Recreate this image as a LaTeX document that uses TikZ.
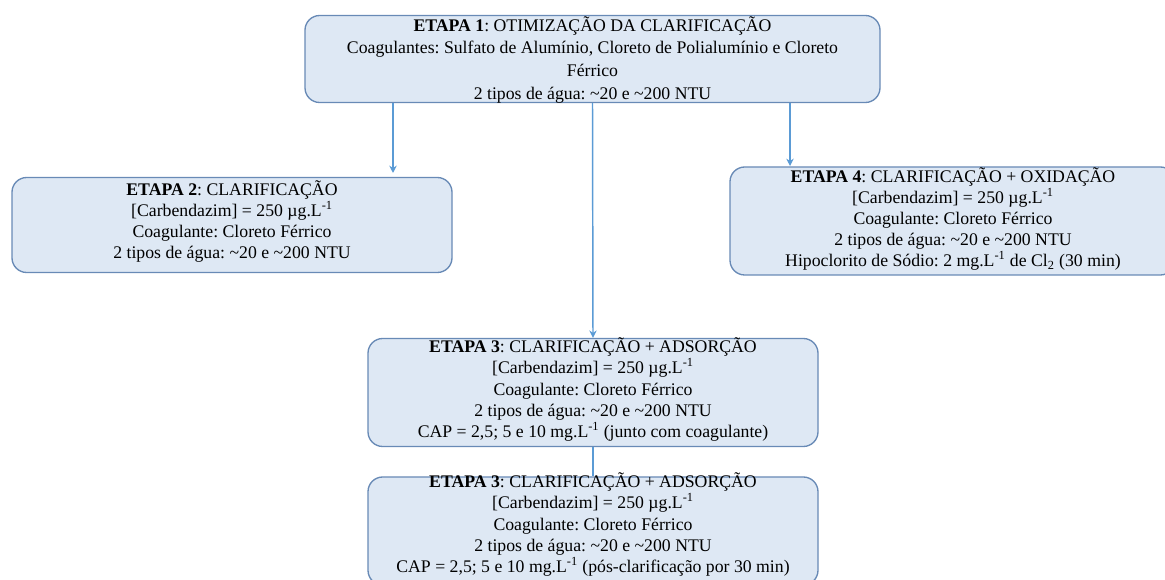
\documentclass[tikz,border=0pt]{standalone}
\usepackage{fontspec}
\setmainfont{Liberation Serif}
\usetikzlibrary{arrows.meta}
\definecolor{boxfill}{RGB}{222,232,244}
\definecolor{boxline}{RGB}{104,138,182}
\definecolor{arrline}{RGB}{91,155,213}
\tikzset{
  stagebox/.style={draw=boxline, fill=boxfill, line width=1pt, rounded corners=11pt, inner sep=0pt},
  stagetext/.style={align=center, inner sep=0pt, font=\fontsize{13.3}{15.9}\selectfont\frenchspacing},
  arr/.style={draw=arrline, line width=1.1pt, -{Stealth[length=5.5pt,width=5.5pt]}},
  plainline/.style={draw=arrline, line width=1.1pt},
}
\begin{document}
\begin{tikzpicture}[x=0.75pt,y=-0.75pt]
\useasboundingbox (0,0) rectangle (1165,580);
\clip (0,0) rectangle (1165,580);
% boxes
\node[stagebox, minimum width=431.25pt, minimum height=65.25pt] (b1) at (592.5,59) {};
\node[stagebox, minimum width=330pt, minimum height=71.25pt] (b2) at (232,225) {};
\node[stagebox, minimum width=333.75pt, minimum height=81pt] (b4) at (952.5,221) {};
\node[stagebox, minimum width=337.5pt, minimum height=81pt] (b3) at (593,392.5) {};
\node[stagebox, minimum width=337.5pt, minimum height=81pt] (b5) at (593,531) {};
% texts
\node[stagetext, font=\fontsize{13.3}{17}\selectfont\frenchspacing] (t1) at (592.5,59.5) {\textbf{ETAPA 1}: OTIMIZAÇÃO DA CLARIFICAÇÃO\\
Coagulantes: Sulfato de Alumínio, Cloreto de Polialumínio e Cloreto\\
Férrico\\
2 tipos de água: \textasciitilde20 e \textasciitilde200 NTU};
\node[stagetext] (t2) at (232,221.5) {\textbf{ETAPA 2}: CLARIFICAÇÃO\\
{[}Carbendazim{]} = 250 µg.L\textsuperscript{-1}\\
Coagulante: Cloreto Férrico\\
2 tipos de água: \textasciitilde20 e \textasciitilde200 NTU};
\node[stagetext] (t4) at (953,219) {\textbf{ETAPA 4}: CLARIFICAÇÃO + OXIDAÇÃO\\
{[}Carbendazim{]} = 250 µg.L\textsuperscript{-1}\\
Coagulante: Cloreto Férrico\\
2 tipos de água: \textasciitilde20 e \textasciitilde200 NTU\\
Hipoclorito de Sódio: 2 mg.L\textsuperscript{-1} de Cl\textsubscript{2} (30 min)};
\node[stagetext] (t3) at (593,389.5) {\textbf{ETAPA 3}: CLARIFICAÇÃO + ADSORÇÃO\\
{[}Carbendazim{]} = 250 µg.L\textsuperscript{-1}\\
Coagulante: Cloreto Férrico\\
2 tipos de água: \textasciitilde20 e \textasciitilde200 NTU\\
CAP = 2,5; 5 e 10 mg.L\textsuperscript{-1} (junto com coagulante)};
\node[stagetext] (t5) at (593,524.5) {\textbf{ETAPA 3}: CLARIFICAÇÃO + ADSORÇÃO\\
{[}Carbendazim{]} = 250 µg.L\textsuperscript{-1}\\
Coagulante: Cloreto Férrico\\
2 tipos de água: \textasciitilde20 e \textasciitilde200 NTU\\
CAP = 2,5; 5 e 10 mg.L\textsuperscript{-1} (pós-clarificação por 30 min)};
% connectors
\coordinate (e2) at (393,173);
\coordinate (e4) at (790,166);
\draw[arr] (b1.south -| e2) -- (e2);
\draw[arr] (b1.south -| e4) -- (e4);
\draw[arr] (b1.south) -- (b3.north);
\draw[plainline] (b3.south) -- (b5.north);
\end{tikzpicture}
\end{document}
